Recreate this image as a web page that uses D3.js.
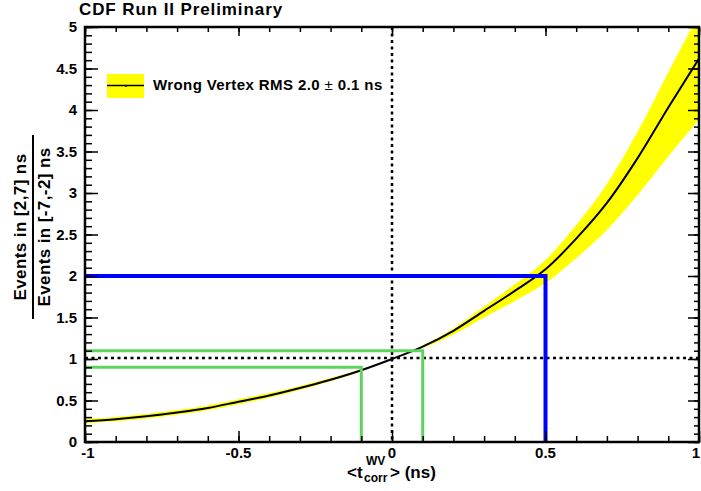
<!DOCTYPE html>
<html>
<head>
<meta charset="utf-8">
<script src="https://cdn.jsdelivr.net/npm/d3@7"></script>
<style>
  body { margin: 0; background: #fff; }
  svg { display: block; font-family: "Liberation Sans", Arial, sans-serif; font-weight: bold; }
</style>
</head>
<body>
<svg id="chart"></svg>
<script>
const width = 701;
const height = 491;

// data
const tMean = [-1.0, -0.9, -0.8, -0.7, -0.6, -0.5, -0.4, -0.3, -0.2, -0.1, 0.0,
               0.1, 0.2, 0.3, 0.4, 0.5, 0.6, 0.7, 0.8, 0.9, 1.0];
const ratio = [0.25, 0.275, 0.31, 0.355, 0.41, 0.485, 0.56, 0.65, 0.75, 0.865, 1.0,
               1.15, 1.34, 1.58, 1.82, 2.08, 2.45, 2.88, 3.42, 4.03, 4.62];
const ratioHi = [0.276, 0.302, 0.338, 0.385, 0.44, 0.515, 0.589, 0.675, 0.77, 0.877, 1.0,
                 1.162, 1.368, 1.633, 1.90, 2.193, 2.614, 3.108, 3.737, 4.456, 5.158];
const ratioLo = [0.225, 0.249, 0.283, 0.327, 0.382, 0.456, 0.532, 0.626, 0.731, 0.853, 1.0,
                 1.132, 1.296, 1.501, 1.70, 1.915, 2.215, 2.555, 2.976, 3.44, 3.886];

const xMajor = [-1, -0.5, 0, 0.5, 1];
const yMajor = [0, 0.5, 1, 1.5, 2, 2.5, 3, 3.5, 4, 4.5, 5];

// cut lines: [x, y] where each line turns down to the axis
const blueCut = [0.5, 2.0];
const greenCuts = [[0.1, 1.1], [-0.1, 0.9]];

const svg = d3.select("#chart")
    .attr("width", width)
    .attr("height", height);

const x = d3.scaleLinear().domain([-1, 1]).range([85, 699]);
const y = d3.scaleLinear().domain([0, 5]).range([442, 27]);

svg.append("defs").append("clipPath").attr("id", "frame")
    .append("rect")
    .attr("x", x(-1)).attr("y", y(5))
    .attr("width", x(1) - x(-1)).attr("height", y(0) - y(5));

const plot = svg.append("g").attr("clip-path", "url(#frame)");

const pts = tMean.map((t, i) => ({ t, v: ratio[i], hi: ratioHi[i], lo: ratioLo[i] }));

plot.append("path")
    .datum(pts)
    .attr("fill", "#ffff00")
    .attr("d", d3.area()
        .x(d => x(d.t))
        .y0(d => y(d.lo))
        .y1(d => y(d.hi))
        .curve(d3.curveMonotoneX));

plot.append("path")
    .datum(pts)
    .attr("fill", "none")
    .attr("stroke", "#000")
    .attr("stroke-width", 2)
    .attr("d", d3.line()
        .x(d => x(d.t))
        .y(d => y(d.v))
        .curve(d3.curveMonotoneX));

// dotted guides at 0 and 1
plot.append("line")
    .attr("x1", x(0)).attr("x2", x(0))
    .attr("y1", y(5)).attr("y2", y(0))
    .attr("stroke", "#000").attr("stroke-width", 2.5)
    .attr("stroke-dasharray", "3,3.5");
plot.append("line")
    .attr("x1", x(-1)).attr("x2", x(1))
    .attr("y1", y(1) - 1).attr("y2", y(1) - 1)
    .attr("stroke", "#000").attr("stroke-width", 2.5)
    .attr("stroke-dasharray", "3,3.5");

greenCuts.forEach(c => {
    plot.append("path")
        .attr("fill", "none")
        .attr("stroke", "#5fd35f")
        .attr("stroke-width", 3)
        .attr("d", `M${x(-1)},${y(c[1])}H${x(c[0])}V${y(0)}`);
});

plot.append("path")
    .attr("fill", "none")
    .attr("stroke", "#0000ff")
    .attr("stroke-width", 4)
    .attr("d", `M${x(-1)},${y(blueCut[1])}H${x(blueCut[0])}V${y(0)}`);

// axes: minor ticks every 0.1
const xMinor = d3.range(-10, 11).map(i => i / 10);
const yMinor = d3.range(0, 51).map(i => i / 10);

function styleAxis(g) {
    g.select(".domain").remove();
    g.selectAll(".tick line").attr("stroke", "#000").attr("stroke-width", 1.5);
}

svg.append("g").attr("transform", `translate(0,${y(0)})`)
    .call(d3.axisTop(x).tickValues(xMinor).tickSize(6).tickFormat(""))
    .call(styleAxis);
svg.append("g").attr("transform", `translate(0,${y(0)})`)
    .call(d3.axisTop(x).tickValues(xMajor).tickSize(11).tickFormat(""))
    .call(styleAxis);
svg.append("g").attr("transform", `translate(0,${y(5)})`)
    .call(d3.axisBottom(x).tickValues(xMinor).tickSize(5).tickFormat(""))
    .call(styleAxis);
svg.append("g").attr("transform", `translate(0,${y(5)})`)
    .call(d3.axisBottom(x).tickValues(xMajor).tickSize(9).tickFormat(""))
    .call(styleAxis);

svg.append("g").attr("transform", `translate(${x(-1)},0)`)
    .call(d3.axisRight(y).tickValues(yMinor).tickSize(7).tickFormat(""))
    .call(styleAxis);
svg.append("g").attr("transform", `translate(${x(-1)},0)`)
    .call(d3.axisRight(y).tickValues(yMajor).tickSize(13).tickFormat(""))
    .call(styleAxis);
svg.append("g").attr("transform", `translate(${x(1)},0)`)
    .call(d3.axisLeft(y).tickValues(yMinor).tickSize(5).tickFormat(""))
    .call(styleAxis);
svg.append("g").attr("transform", `translate(${x(1)},0)`)
    .call(d3.axisLeft(y).tickValues(yMajor).tickSize(11).tickFormat(""))
    .call(styleAxis);

// frame
svg.append("rect")
    .attr("x", x(-1)).attr("y", y(5))
    .attr("width", x(1) - x(-1)).attr("height", y(0) - y(5))
    .attr("fill", "none").attr("stroke", "#000").attr("stroke-width", 2.5);

// tick labels
svg.append("g").selectAll("text")
    .data(xMajor)
    .join("text")
    .attr("x", d => x(d) + (d === -1 ? 3 : d === 1 ? -3 : 0))
    .attr("y", 458)
    .attr("text-anchor", "middle")
    .attr("font-size", 15)
    .text(d => String(d));

svg.append("g").selectAll("text")
    .data(yMajor)
    .join("text")
    .attr("x", 77)
    .attr("y", d => y(d) + 5)
    .attr("text-anchor", "end")
    .attr("font-size", 15)
    .text(d => d);

// title
svg.append("text")
    .attr("x", 79).attr("y", 15)
    .attr("font-size", 17)
    .attr("letter-spacing", 0.9)
    .text("CDF Run II Preliminary");

// x axis title
const xt = svg.append("g").attr("font-size", 17);
xt.append("text").attr("x", 347).attr("y", 478).text("<t");
xt.append("text").attr("x", 366).attr("y", 465).attr("font-size", 12).text("WV");
xt.append("text").attr("x", 364).attr("y", 482).attr("font-size", 12).text("corr");
xt.append("text").attr("x", 390).attr("y", 478).text("> (ns)");

// y axis title as a fraction
const yt = svg.append("g").attr("transform", "translate(0,227) rotate(-90)");
yt.append("text")
    .attr("x", 0).attr("y", 26)
    .attr("text-anchor", "middle")
    .attr("font-size", 17)
    .attr("letter-spacing", 0.4)
    .text("Events in [2,7] ns");
yt.append("text")
    .attr("x", 0).attr("y", 50)
    .attr("text-anchor", "middle")
    .attr("font-size", 17)
    .attr("letter-spacing", 0.4)
    .text("Events in [-7,-2] ns");
yt.append("line")
    .attr("x1", -92).attr("x2", 92)
    .attr("y1", 33).attr("y2", 33)
    .attr("stroke", "#000").attr("stroke-width", 2);

// legend
const legend = svg.append("g");
legend.append("rect")
    .attr("x", 107).attr("y", 74)
    .attr("width", 37).attr("height", 24)
    .attr("fill", "#ffff00");
legend.append("line")
    .attr("x1", 107).attr("x2", 144)
    .attr("y1", 85.5).attr("y2", 85.5)
    .attr("stroke", "#000").attr("stroke-width", 1.5);
legend.append("circle")
    .attr("cx", 126).attr("cy", 86).attr("r", 1)
    .attr("fill", "#000");
const lt = legend.append("text")
    .attr("x", 153).attr("y", 90)
    .attr("font-size", 15)
    .attr("letter-spacing", 0.4);
lt.append("tspan").text("Wrong Vertex RMS 2.0 ");
lt.append("tspan").attr("font-weight", "normal").text("±");
lt.append("tspan").text(" 0.1 ns");
</script>
</body>
</html>
